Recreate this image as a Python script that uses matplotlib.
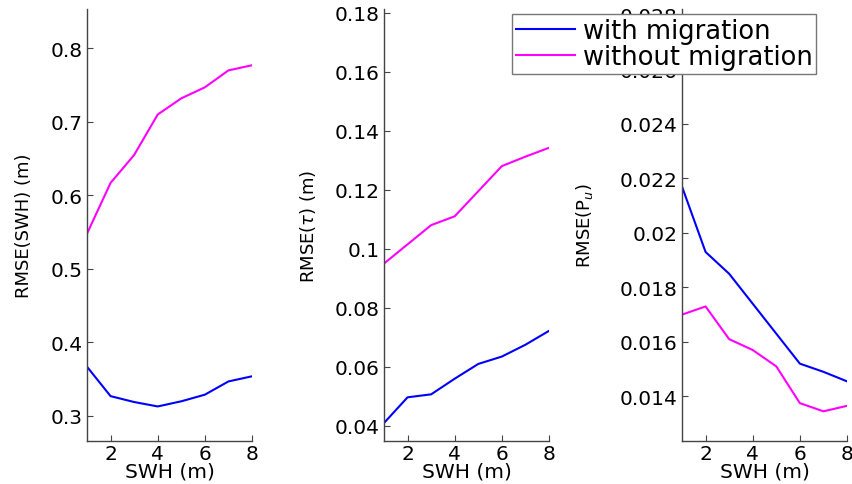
import matplotlib
matplotlib.use('Agg')
import matplotlib.pyplot as plt

# SWH values on x axis
swh = [1, 2, 3, 4, 5, 6, 7, 8]

# RMSE(SWH)
swh_with = [0.367, 0.327, 0.319, 0.313, 0.320, 0.329, 0.347, 0.354]
swh_without = [0.548, 0.617, 0.655, 0.710, 0.732, 0.747, 0.770, 0.777]

# RMSE(tau)
tau_with = [0.041, 0.0497, 0.0507, 0.056, 0.061, 0.0635, 0.0675, 0.0722]
tau_without = [0.095, 0.1015, 0.108, 0.111, 0.1195, 0.128, 0.1312, 0.1342]

# RMSE(Pu)
pu_with = [0.0217, 0.0193, 0.0185, 0.0174, 0.0163, 0.0152, 0.0149, 0.01455]
pu_without = [0.0170, 0.0173, 0.0161, 0.0157, 0.0151, 0.01375, 0.01345, 0.01365]

plt.rcParams['font.family'] = ['DejaVu Sans']
plt.rcParams['mathtext.fontset'] = 'dejavusans'

fig = plt.figure(figsize=(8.52, 4.85), dpi=100)
W, H = 852., 485.

panels = [
    (87, swh_with, swh_without, (0.266, 0.8535), [0.3, 0.4, 0.5, 0.6, 0.7, 0.8],
     ['0.3', '0.4', '0.5', '0.6', '0.7', '0.8'], 'RMSE(SWH) (m)', -0.33),
    (384, tau_with, tau_without, (0.0349, 0.1812), [0.04, 0.06, 0.08, 0.1, 0.12, 0.14, 0.16, 0.18],
     ['0.04', '0.06', '0.08', '0.1', '0.12', '0.14', '0.16', '0.18'], r'RMSE($\tau$) (m)', -0.40),
    (682, pu_with, pu_without, (0.01236, 0.02822), [0.014, 0.016, 0.018, 0.02, 0.022, 0.024, 0.026, 0.028],
     ['0.014', '0.016', '0.018', '0.02', '0.022', '0.024', '0.026', '0.028'], r'RMSE(P$_u$)', -0.53),
]

lines = []
for left, yw, yo, ylim, yt, ytl, ylab, labx in panels:
    ax = fig.add_axes([left / W, 1 - 442 / H, 165 / W, 432 / H])
    l1, = ax.plot(swh, yw, color='#0000ff', lw=1.5, label='with migration')
    l2, = ax.plot(swh, yo, color='#ff00ff', lw=1.5, label='without migration')
    lines = [l1, l2]
    ax.set_xlim(1, 8)
    ax.set_ylim(*ylim)
    ax.set_xticks([2, 4, 6, 8])
    ax.set_yticks(yt)
    ax.set_yticklabels(ytl)
    ax.spines['top'].set_visible(False)
    ax.spines['right'].set_visible(False)
    for s in ['left', 'bottom']:
        ax.spines[s].set_color('#444444')
        ax.spines[s].set_linewidth(1.0)
    ax.tick_params(direction='in', length=4, width=0.8, color='#444444', labelsize=14.5)
    ax.tick_params(axis='y', pad=3)
    ax.tick_params(axis='x', pad=2)
    ax.set_xlabel('SWH (m)', fontsize=14.5, labelpad=-1)
    ax.set_ylabel(ylab, fontsize=13)
    ax.yaxis.set_label_coords(labx, 0.5)

leg = fig.legend(lines, ['with migration', 'without migration'], loc='upper left',
                 bbox_to_anchor=(512 / W, 1 - 15 / H), fontsize=18.5, frameon=True,
                 fancybox=False, framealpha=1, edgecolor='#777777', handlelength=2.3,
                 handletextpad=0.3, borderpad=0.15, labelspacing=0.0, borderaxespad=0)
leg.get_frame().set_linewidth(1.0)

fig.savefig('out.png', dpi=100)
